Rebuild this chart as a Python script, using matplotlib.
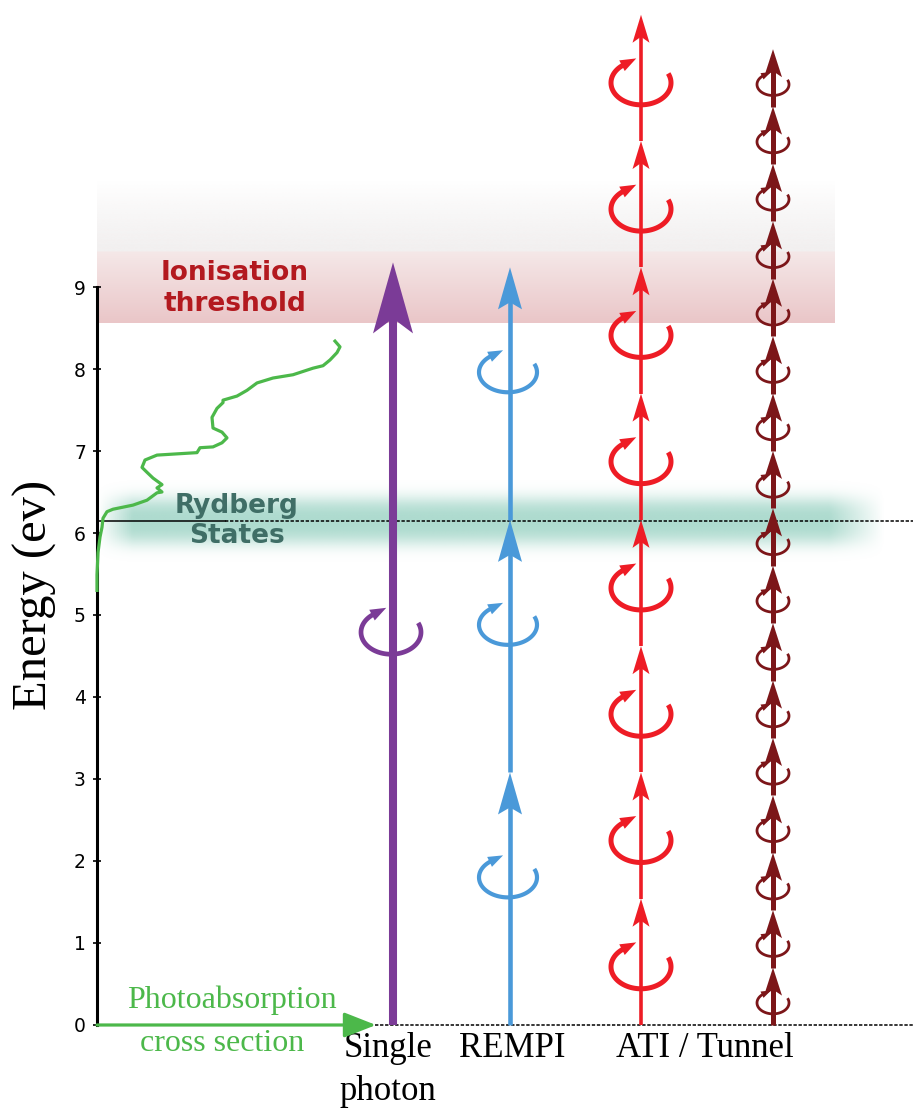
import numpy as np
import matplotlib.pyplot as plt
from matplotlib.patches import Polygon, FancyArrowPatch

# energy levels (eV)
ionisation_energy = 8.56
rydberg_energy = 6.15
yticks = [0, 1, 2, 3, 4, 5, 6, 7, 8, 9]

# photon energy (eV) and number of photons for each scheme
single_photon = 9.3
rempi_photon = 3.08
rempi_n = 3
ati_photon = 1.54
ati_n = 8
tunnel_photon = 0.70
tunnel_n = 17

labels = ['Single\nphoton', 'REMPI', 'ATI / Tunnel']

# photoabsorption cross section (arb. units) against energy (eV)
pa_energy = [5.30, 5.49, 5.76, 5.95, 6.07, 6.18, 6.26, 6.29, 6.34, 6.40, 6.49, 6.50,
             6.55, 6.59, 6.67, 6.74, 6.80, 6.89, 6.95, 6.98, 7.04, 7.05, 7.10, 7.16,
             7.23, 7.28, 7.41, 7.52, 7.59, 7.62, 7.67, 7.74, 7.83, 7.89, 7.93, 8.01,
             8.04, 8.11, 8.20, 8.27, 8.34]
pa_sigma = [0, 0, 1, 3, 5, 6, 10, 16, 36, 50, 60, 65,
            60, 65, 56, 50, 45, 48, 60, 100, 103, 116, 125, 130,
            125, 116, 115, 120, 126, 126, 140, 150, 160, 176, 196, 216,
            226, 233, 240, 243, 238]

PX = 82.0        # pixels per eV
AX0 = 97         # x of energy axis
c_purple = '#7b3b97'
c_blue = '#4a99d9'
c_red = '#ee1c25'
c_dark = '#7c1619'
c_green = '#4cb84a'

fig = plt.figure(figsize=(9.13, 11.13), dpi=100)
ax = fig.add_axes([0, 0, 1, 1])


def head(x, tip, L, W, notch, color):
    pts = [(x, tip), (x - W / 2, tip - L / PX), (x, tip - notch / PX), (x + W / 2, tip - L / PX)]
    ax.add_patch(Polygon(pts, closed=True, facecolor=color, edgecolor='none', zorder=5))


def ladder(x, step, n, color, lw, L, W, notch):
    for i in range(n):
        y0 = i * step
        y1 = (i + 1) * step
        ax.plot([x, x], [y0, y1 - notch / PX * 0.8], color=color, lw=lw,
                solid_capstyle='butt', zorder=4)
        head(x, y1, L, W, notch, color)


def swirl(x, yc, rx, ry, color, lw, hl, hw):
    t = np.radians(np.linspace(25, -235, 90))
    ax.plot(x + rx * np.cos(t), yc + ry * np.sin(t) / PX, color=color, lw=lw,
            solid_capstyle='butt', zorder=6)
    te = t[-1]
    p = np.array([rx * np.cos(te), ry * np.sin(te)])
    tv = np.array([rx * np.sin(te), -ry * np.cos(te)])
    tv = tv / np.hypot(*tv)
    nv = np.array([-tv[1], tv[0]])
    tip = p + tv * hl
    b1 = p - tv * 2 + nv * hw / 2
    b2 = p - tv * 2 - nv * hw / 2
    pts = [(x + q[0], yc + q[1] / PX) for q in (tip, b1, b2)]
    ax.add_patch(Polygon(pts, closed=True, facecolor=color, edgecolor='none', zorder=6))


# ionisation band
ny = 200
top = 10.3
yy = np.linspace(ionisation_energy, top, ny)
img = np.ones((ny, 2, 4))
split = 9.43
for k, y in enumerate(yy):
    if y < split:
        f = (y - ionisation_energy) / (split - ionisation_energy)
        c = np.array([234, 198, 200]) * (1 - f) + np.array([245, 232, 232]) * f
        img[k, :, :3] = c / 255
        img[k, :, 3] = 1
    else:
        f = (y - split) / (top - split)
        img[k, :, :3] = np.array([242, 240, 240]) / 255
        img[k, :, 3] = max(0, 1 - f ** 1.2)
ax.imshow(img, extent=[AX0, 835, ionisation_energy, top], origin='lower',
          aspect='auto', interpolation='bilinear', zorder=1)

# rydberg glow
xs_g = np.linspace(AX0, 900, 400)
ys_g = np.linspace(rydberg_energy - 0.5, rydberg_energy + 0.5, 200)
gx, gy = np.meshgrid(xs_g, ys_g)
d = np.abs(gy - rydberg_energy) * PX
a = np.exp(-(d / 24) ** 3)
a *= np.clip((gx - AX0) / 35, 0, 1) * np.clip((885 - gx) / 55, 0, 1)
glow = np.zeros((200, 400, 4))
glow[..., 0] = 120 / 255
glow[..., 1] = 195 / 255
glow[..., 2] = 175 / 255
glow[..., 3] = 0.6 * a
ax.imshow(glow, extent=[AX0, 900, rydberg_energy - 0.5, rydberg_energy + 0.5],
          origin='lower', aspect='auto', zorder=2)

# reference lines
ax.plot([AX0, 225], [rydberg_energy, rydberg_energy], color='black', lw=1.1, zorder=3)
ax.plot([225, 913], [rydberg_energy, rydberg_energy], color='black', lw=1.1,
        ls=(0, (2.2, 1.1)), zorder=3)
ax.plot([375, 913], [0, 0], color='black', lw=1.1, ls=(0, (2.2, 1.1)), zorder=3)

# photoabsorption curve
ax.plot(AX0 + np.array(pa_sigma), pa_energy, color=c_green, lw=2.3, zorder=4)
ax.add_patch(FancyArrowPatch((AX0, 0), (376, 0), arrowstyle='-|>,head_length=1.4,head_width=0.55',
                             mutation_scale=14, lw=2.3, color=c_green, shrinkA=0, shrinkB=0,
                             zorder=5))

# single photon
ladder(393, single_photon, 1, c_purple, 5.8, 71, 40, 56)
swirl(391, 4.79, 30, 22, c_purple, 3.4, 14, 12)

# REMPI
ladder(510, rempi_photon, rempi_n, c_blue, 3.3, 42, 24, 35)
for i in range(rempi_n):
    swirl(508, i * rempi_photon + 1.8, 29, 20, c_blue, 3.0, 13, 11)

# ATI
ladder(641, ati_photon, ati_n, c_red, 2.6, 28, 17, 22)
for i in range(ati_n):
    swirl(641, i * ati_photon + 0.71, 30, 22, c_red, 3.6, 14, 12)

# tunnel
ladder(773, tunnel_photon, tunnel_n, c_dark, 3.6, 28, 18, 22)
for i in range(tunnel_n):
    swirl(773, i * tunnel_photon + 0.27, 16, 11, c_dark, 2.0, 8, 7)

# texts
ax.text(235, 8.98, 'Ionisation\nthreshold', color='#b3191f', fontsize=19,
        fontweight='bold', ha='center', va='center', linespacing=1.25, zorder=7)
ax.text(237, rydberg_energy, 'Rydberg\nStates', color='#3f6e66', fontsize=19,
        fontweight='bold', ha='center', va='center', linespacing=1.2, zorder=7)
ax.text(232, 0.30, 'Photoabsorption', color=c_green, fontsize=23,
        family='Liberation Serif', ha='center', va='center', zorder=7)
ax.text(222, -0.22, 'cross section', color=c_green, fontsize=23,
        family='Liberation Serif', ha='center', va='center', zorder=7)
ax.text(388, -0.08, labels[0], fontsize=25, family='Liberation Serif',
        ha='center', va='top', linespacing=1.4)
ax.text(512, -0.08, labels[1], fontsize=25, family='Liberation Serif', ha='center', va='top')
ax.text(705, -0.08, labels[2], fontsize=25, family='Liberation Serif', ha='center', va='top')
ax.text(35, 5.24, 'Energy (ev)', fontsize=35, family='Liberation Serif', rotation=90,
        ha='center', va='center')

# axis
ax.set_xlim(0, 913)
ax.set_ylim(-88 / PX, 1025 / PX)
for s in ['top', 'right', 'bottom']:
    ax.spines[s].set_visible(False)
ax.spines['left'].set_position(('data', AX0))
ax.spines['left'].set_bounds(0, 9)
ax.spines['left'].set_linewidth(2.2)
ax.set_xticks([])
ax.set_yticks(yticks)
ax.tick_params(axis='y', labelsize=13.5, length=6, width=1.2, direction='inout', pad=5)
ax.patch.set_alpha(0)

fig.savefig('out.png', dpi=100)
